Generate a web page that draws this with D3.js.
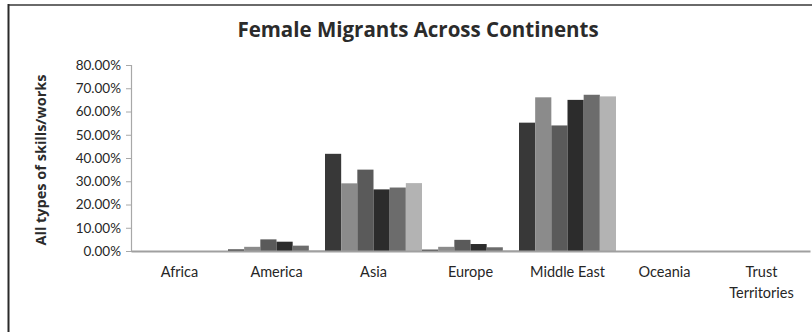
<!DOCTYPE html>
<html>
<head>
<meta charset="utf-8">
<script src="https://cdn.jsdelivr.net/npm/d3@7"></script>
<style>
  html, body { margin: 0; padding: 0; background: #fff; }
  svg { display: block; font-family: Lato, "Open Sans", sans-serif; }
</style>
</head>
<body>
<svg id="chart" width="812" height="332"></svg>
<script>
// Continents shown along the x axis
const categories = ["Africa", "America", "Asia", "Europe", "Middle East", "Oceania", "Trust Territories"];

// Six series, one value per continent (share of female migrants)
const series1 = [0, 0.007, 0.418, 0.006, 0.552, 0, 0];
const series2 = [0, 0.018, 0.291, 0.018, 0.661, 0, 0];
const series3 = [0, 0.050, 0.350, 0.048, 0.540, 0, 0];
const series4 = [0, 0.040, 0.265, 0.030, 0.650, 0, 0];
const series5 = [0, 0.023, 0.273, 0.016, 0.672, 0, 0];
const series6 = [0, 0.003, 0.292, 0.003, 0.665, 0, 0];

const seriesNames = ["Series 1", "Series 2", "Series 3", "Series 4", "Series 5", "Series 6"];
const seriesValues = [series1, series2, series3, series4, series5, series6];
const seriesColors = ["#383838", "#8b8b8b", "#5a5a5a", "#2c2c2c", "#6c6c6c", "#b3b3b3"];

const yTicks = [0, 0.1, 0.2, 0.3, 0.4, 0.5, 0.6, 0.7, 0.8];

const svg = d3.select("#chart");

// Outer frame (top and left edges)
svg.append("line").attr("x1", 8).attr("x2", 812).attr("y1", 5).attr("y2", 5)
  .attr("stroke", "#6a6a6a").attr("stroke-width", 2);
svg.append("line").attr("x1", 8.5).attr("x2", 8.5).attr("y1", 4).attr("y2", 332)
  .attr("stroke", "#2a2a2a").attr("stroke-width", 2);

// Title
svg.append("text")
  .attr("x", 418).attr("y", 37)
  .attr("text-anchor", "middle")
  .attr("font-family", "'Open Sans', sans-serif")
  .attr("font-size", 20.5).attr("font-weight", "bold").attr("fill", "#2b2b2b")
  .text("Female Migrants Across Continents");

const x = d3.scaleBand().domain(categories).range([131, 810]).paddingInner(0).paddingOuter(0);
const xs = d3.scaleBand().domain(seriesNames).range([0, x.bandwidth()]).padding(0);
const y = d3.scaleLinear().domain([0, 0.8]).range([251, 65]);

// Y axis
const yAxis = svg.append("g").attr("transform", "translate(131,0)")
  .call(d3.axisLeft(y).tickValues(yTicks).tickFormat(d3.format(".2%")).tickSize(5).tickPadding(5));
yAxis.select(".domain").attr("stroke", "#a8a8a8").attr("stroke-width", 1.2);
yAxis.selectAll(".tick line").attr("stroke", "#a8a8a8");
yAxis.selectAll(".tick text").attr("font-size", 13.5).attr("fill", "#262626")
  .attr("font-family", "Lato, sans-serif");

// Y axis title
svg.append("text")
  .attr("transform", "translate(46,160) rotate(-90)")
  .attr("text-anchor", "middle")
  .attr("font-family", "'Open Sans', sans-serif")
  .attr("font-size", 14.5).attr("font-weight", "bold").attr("fill", "#2b2b2b")
  .text("All types of skills/works");

// Bars
const groups = svg.append("g").selectAll("g")
  .data(seriesNames)
  .join("g")
  .attr("fill", (d, i) => seriesColors[i]);

groups.selectAll("rect")
  .data((name, i) => categories.map((c, j) => ({ c, name, v: seriesValues[i][j] })))
  .join("rect")
  .attr("x", d => x(d.c) + xs(d.name))
  .attr("width", xs.bandwidth())
  .attr("y", d => y(d.v))
  .attr("height", d => y(0) - y(d.v));

// X axis
const xAxis = svg.append("g").attr("transform", "translate(0,251)")
  .call(d3.axisBottom(x).tickSize(0).tickPadding(0));
xAxis.select(".domain").attr("stroke", "#a0a0a0").attr("stroke-width", 2);
xAxis.selectAll(".tick text").remove();

// Category labels (two lines where the name is long)
const labelLines = { "Trust Territories": ["Trust", "Territories"] };
xAxis.selectAll(".tick").each(function (d) {
  const lines = labelLines[d] || [d];
  const t = d3.select(this).append("text")
    .attr("text-anchor", "middle")
    .attr("font-size", 14.5).attr("fill", "#262626")
    .attr("font-family", "Lato, sans-serif");
  lines.forEach((ln, k) => {
    t.append("tspan").attr("x", 0).attr("y", 26 + k * 21).text(ln);
  });
});
</script>
</body>
</html>
